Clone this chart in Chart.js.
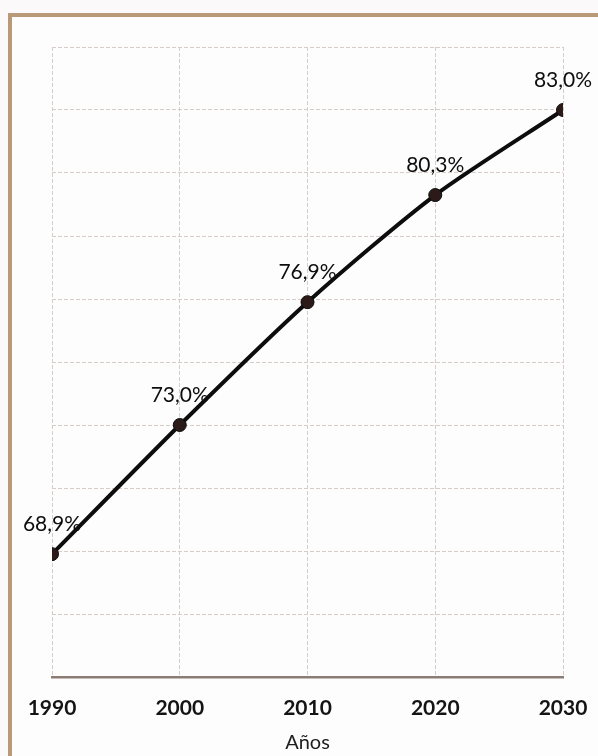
<!DOCTYPE html>
<html>
<head>
<meta charset="utf-8">
<script src="https://cdn.jsdelivr.net/npm/chart.js@4/dist/chart.umd.min.js"></script>
<style>
  html, body { margin: 0; padding: 0; background: #fbf9f9; }
  #wrap { position: relative; width: 598px; height: 756px; overflow: hidden; }
  #frame { position: absolute; left: 8px; top: 13px; width: 620px; height: 780px;
           border-left: 4px solid #b99a78; border-top: 4px solid #b99a78; background: #fefdfd; }
  canvas { position: absolute; left: 0; top: 0; }
</style>
</head>
<body>
<div id="wrap">
  <div id="frame"></div>
  <canvas id="c" width="598" height="756"></canvas>
</div>
<script>
const years = [1990, 2000, 2010, 2020, 2030];
const values = [68.9, 73.0, 76.9, 80.3, 83.0];
const valueLabels = ["68,9%", "73,0%", "76,9%", "80,3%", "83,0%"];
const xTitle = "Años";
const yMin = 65, yMax = 85, yStep = 2;

const labelPlugin = {
  id: 'pointLabels',
  afterDatasetsDraw(chart) {
    const ctx = chart.ctx;
    const meta = chart.getDatasetMeta(0);
    ctx.save();
    ctx.font = '21px Lato, "Open Sans", sans-serif';
    ctx.fillStyle = '#0d0d0d';
    ctx.textAlign = 'center';
    ctx.textBaseline = 'middle';
    meta.data.forEach((pt, i) => {
      ctx.fillText(valueLabels[i], pt.x, pt.y - 30);
    });
    ctx.restore();
  }
};

new Chart(document.getElementById('c'), {
  type: 'line',
  data: {
    datasets: [{
      data: years.map((y, i) => ({ x: y, y: values[i] })),
      borderColor: '#0d0d0d',
      borderWidth: 4,
      tension: 0.25,
      pointRadius: 6.5,
      pointBackgroundColor: '#2b1a18',
      pointBorderColor: '#0d0d0d',
      pointBorderWidth: 1
    }]
  },
  options: {
    responsive: false,
    animation: false,
    devicePixelRatio: 1,
    layout: { padding: { left: 52, right: 35, top: 47, bottom: 0 } },
    plugins: { legend: { display: false }, tooltip: { enabled: false } },
    scales: {
      x: {
        type: 'linear',
        min: 1990, max: 2030,
        afterFit(scale) {
          scale.height = 79;
          scale.paddingLeft = 0;
          scale.paddingRight = 0;
        },
        ticks: {
          stepSize: 10,
          padding: 21,
          maxRotation: 0,
          color: '#141414',
          font: { family: 'Lato, "Open Sans", sans-serif', size: 21, weight: 'bold', lineHeight: 1 },
          callback: v => String(v)
        },
        grid: { color: '#d6ccc8', lineWidth: 1, drawTicks: false },
        border: { display: true, color: '#8c7c76', width: 2.5, dash: [4, 2] },
        title: {
          display: true, text: xTitle, color: '#1e1e1e',
          font: { family: 'Lato, "Open Sans", sans-serif', size: 20, lineHeight: 1 },
          padding: { top: 0, bottom: 3 }
        }
      },
      y: {
        min: yMin, max: yMax,
        afterFit(scale) { scale.width = 0; },
        ticks: { stepSize: yStep, display: false },
        grid: { color: '#d6ccc8', lineWidth: 1, drawTicks: false },
        border: { display: false, dash: [4, 2] }
      }
    }
  },
  plugins: [labelPlugin]
});
</script>
</body>
</html>
